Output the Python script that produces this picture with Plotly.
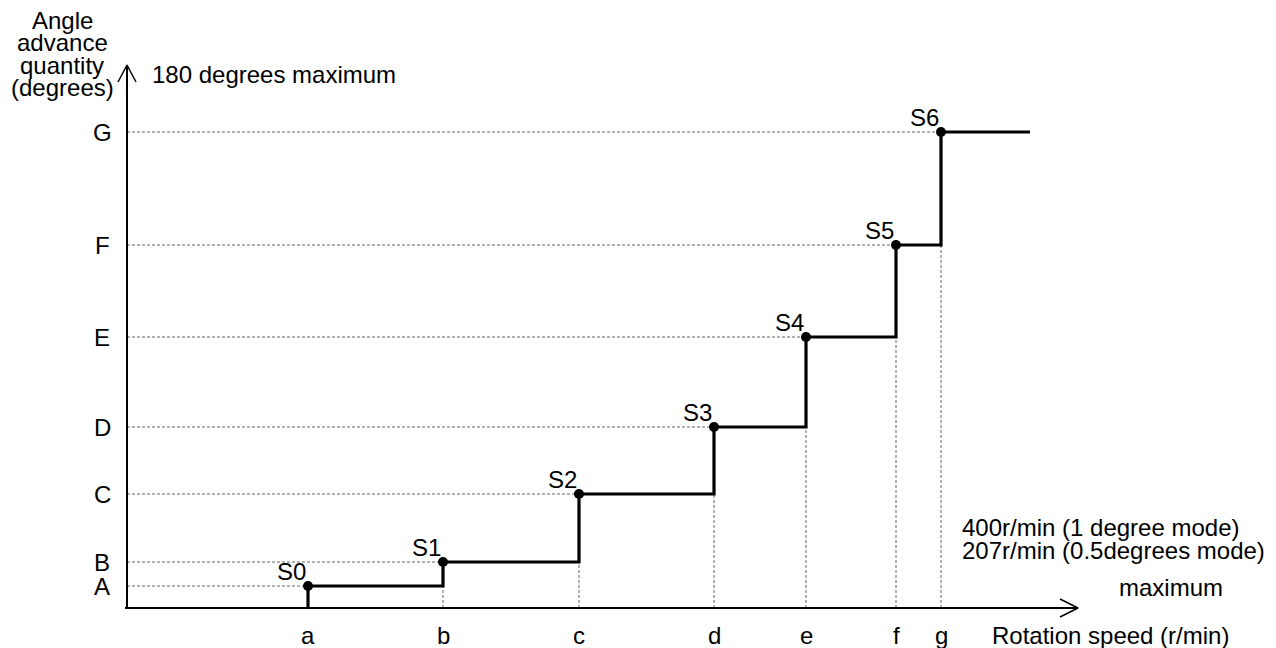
import plotly.graph_objects as go

# ---- data (arbitrary units) ----
speed_labels = ["a", "b", "c", "d", "e", "f", "g"]
speed_vals = [181, 316, 452, 587, 679, 769, 814]
angle_labels = ["A", "B", "C", "D", "E", "F", "G"]
angle_vals = [22, 46, 114, 181, 271, 363, 476]
point_names = ["S0", "S1", "S2", "S3", "S4", "S5", "S6"]
speed_end = 903
x_axis_max = 951
y_axis_max = 543
y_title_lines = ["Angle", "advance", "quantity", "(degrees)"]

FONT = "Liberation Sans, Arial, Helvetica, sans-serif"
FS = 24
DASH = dict(color="#666", width=1, dash="3px,2px")

fig = go.Figure()

# dashed guide lines
for i, (sx, ay) in enumerate(zip(speed_vals, angle_vals)):
    fig.add_trace(go.Scatter(x=[0, sx], y=[ay, ay], mode="lines", line=DASH,
                             hoverinfo="skip", showlegend=False))
    if i > 0:
        fig.add_trace(go.Scatter(x=[sx, sx], y=[0, angle_vals[i - 1]], mode="lines",
                                 line=DASH, hoverinfo="skip", showlegend=False))

# axes lines with open arrowheads
fig.add_trace(go.Scatter(x=[-2, x_axis_max], y=[0, 0], mode="lines",
                         line=dict(color="black", width=2),
                         hoverinfo="skip", showlegend=False))
fig.add_trace(go.Scatter(x=[x_axis_max - 18, x_axis_max, x_axis_max - 18], y=[9, 0, -9],
                         mode="lines", line=dict(color="black", width=1.5),
                         hoverinfo="skip", showlegend=False))
fig.add_trace(go.Scatter(x=[0, 0], y=[-1, y_axis_max], mode="lines",
                         line=dict(color="black", width=2),
                         hoverinfo="skip", showlegend=False))
fig.add_trace(go.Scatter(x=[-9, 0, 9], y=[y_axis_max - 17, y_axis_max, y_axis_max - 17],
                         mode="lines", line=dict(color="black", width=1.5),
                         hoverinfo="skip", showlegend=False))

# step line
sx_line, sy_line = [], []
prev = 0
for sx, ay in zip(speed_vals, angle_vals):
    sx_line += [sx, sx]
    sy_line += [prev, ay]
    prev = ay
sx_line.append(speed_end)
sy_line.append(prev)
fig.add_trace(go.Scatter(x=sx_line, y=sy_line, mode="lines",
                         line=dict(color="black", width=3.2),
                         hoverinfo="skip", showlegend=False))

# points
fig.add_trace(go.Scatter(x=speed_vals, y=angle_vals, mode="markers",
                         marker=dict(color="black", size=10),
                         hoverinfo="skip", showlegend=False))

ann_font = dict(family=FONT, size=FS, color="black")
annotations = []
# point labels
for name, sx, ay in zip(point_names, speed_vals, angle_vals):
    annotations.append(dict(x=sx, y=ay, text=name, showarrow=False,
                            xanchor="right", yanchor="bottom", xshift=0, yshift=-1,
                            font=ann_font))
# tick labels
for lab, sx in zip(speed_labels, speed_vals):
    annotations.append(dict(x=sx, y=-27, text=lab, showarrow=False,
                            xanchor="center", yanchor="middle", font=ann_font))
for lab, ay in zip(angle_labels, angle_vals):
    annotations.append(dict(x=-25, y=ay, text=lab, showarrow=False,
                            xanchor="center", yanchor="middle", font=ann_font))
# y title lines (tight spacing)
for k, line in enumerate(y_title_lines):
    annotations.append(dict(x=-65, y=588 - 22.5 * k, text=line, showarrow=False,
                            xanchor="center", yanchor="middle", font=ann_font))
annotations += [
    dict(x=23, y=534, text="180 degrees maximum", showarrow=False,
         xanchor="left", yanchor="middle", font=ann_font),
    dict(x=863, y=-27, text="Rotation speed (r/min)", showarrow=False,
         xanchor="left", yanchor="middle", font=ann_font),
    dict(x=833, y=81, text="400r/min (1 degree mode)", showarrow=False,
         xanchor="left", yanchor="middle", font=ann_font),
    dict(x=833, y=58, text="207r/min (0.5degrees mode)", showarrow=False,
         xanchor="left", yanchor="middle", font=ann_font),
    dict(x=1098, y=21, text="maximum", showarrow=False,
         xanchor="right", yanchor="middle", font=ann_font),
]

# the page body has an 8px margin, so the figure is 8px smaller and shifted
fig.update_layout(
    width=1268, height=640,
    margin=dict(l=0, r=0, t=0, b=0, pad=0),
    paper_bgcolor="white", plot_bgcolor="white",
    showlegend=False,
    font=dict(family=FONT, size=FS, color="black"),
    annotations=annotations,
    xaxis=dict(range=[-119, 1149], visible=False, fixedrange=True),
    yaxis=dict(range=[-40, 600], visible=False, fixedrange=True),
)

fig.write_html("out.html")
